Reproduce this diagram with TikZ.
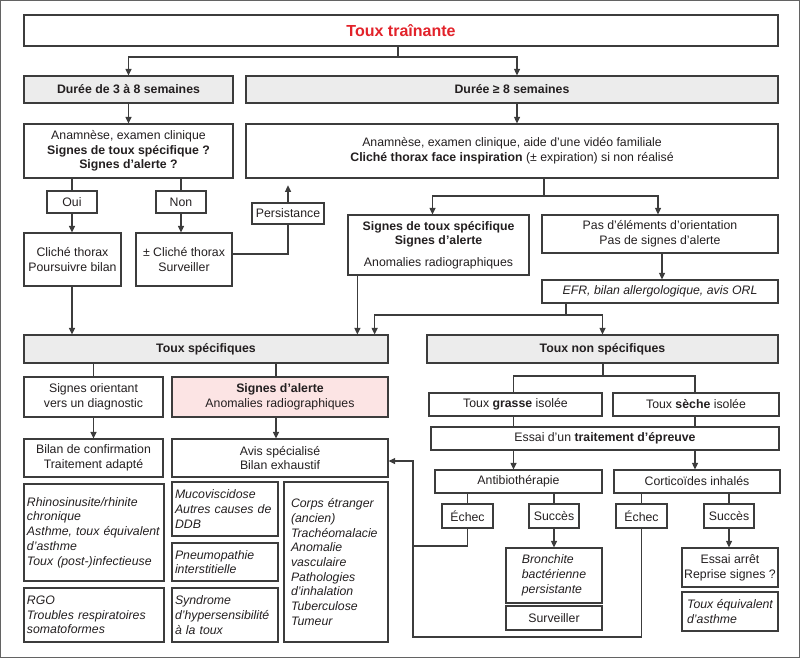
\documentclass[tikz,border=0pt]{standalone}
\usepackage{fontspec}
\setmainfont{Liberation Sans}
\usetikzlibrary{arrows.meta}
\definecolor{ln}{HTML}{3C3C3C}
\definecolor{tx}{HTML}{231F20}
\definecolor{gfill}{HTML}{ECECEC}
\definecolor{pfill}{HTML}{FCE4E4}
\definecolor{tred}{HTML}{E2222A}
\newcommand\bx[7][]{\node[box,#1,minimum width={#5-#3},minimum height={#6-#4}] (#2) at ({(#3+#5)/2},{(#4+#6)/2}) {#7};}
\begin{document}
\begin{tikzpicture}[x=1pt,y=-1pt,
  box/.style={draw=ln,line width=1.25pt,rectangle,inner sep=1pt,align=center,text=tx,
    font=\fontsize{12.3}{14.7}\selectfont},
  gbox/.style={fill=gfill,font=\fontsize{12.3}{14.7}\selectfont\bfseries},
  ibox/.style={align=left,font=\fontsize{12.3}{14.7}\selectfont\itshape},
  line/.style={draw=ln,line width=1.25pt},
  arr/.style={line,-{Triangle[length=6.5pt,width=6pt]}}]
\useasboundingbox (0,0) rectangle (800,659);
\draw[draw=ln!80,line width=1pt] (0.6,0.6) rectangle (799.2,657.4);
% boxes
\bx[font=\fontsize{16}{19}\selectfont\bfseries,text=tred]{title}{24}{15}{778}{46}{Toux traînante}
\bx[gbox]{d1}{24}{76}{233}{103}{Durée de 3 à 8 semaines}
\bx[gbox]{d2}{246}{76}{778}{103}{Durée ≥ 8 semaines}
\bx{a1}{24}{124}{233}{178}{Anamnèse, examen clinique\\\textbf{Signes de toux spécifique ?}\\\textbf{Signes d’alerte ?}}
\bx{a2}{246}{124}{778}{178}{Anamnèse, examen clinique, aide d’une vidéo familiale\\\textbf{Cliché thorax face inspiration} (± expiration) si non réalisé}
\bx{oui}{47}{191}{97}{213}{Oui}
\bx{non}{156}{191}{206}{213}{Non}
\bx{c1}{24}{233}{121}{286}{Cliché thorax\\Poursuivre bilan}
\bx{c2}{136}{233}{232}{286}{± Cliché thorax\\Surveiller}
\bx{pers}{252}{203}{324}{224}{Persistance}
\bx{s1}{348}{215}{529}{275}{\textbf{Signes de toux spécifique}\\\textbf{Signes d’alerte}\\[7pt]Anomalies radiographiques}
\bx{p1}{542}{215}{778}{253}{Pas d’éléments d’orientation\\Pas de signes d’alerte}
\bx[font=\fontsize{12.3}{14.7}\selectfont\itshape]{efr}{542}{280}{778}{303}{EFR, bilan allergologique, avis ORL}
\bx[gbox]{ts}{24}{335}{388}{363}{Toux spécifiques}
\bx[gbox]{tns}{427}{335}{778}{363}{Toux non spécifiques}
\bx{so}{24}{377}{163}{417}{Signes orientant\\vers un diagnostic}
\bx[fill=pfill]{sa}{172}{377}{388}{417}{\textbf{Signes d’alerte}\\Anomalies radiographiques}
\bx{bc}{24}{439}{163}{477}{Bilan de confirmation\\Traitement adapté}
\bx{av}{172}{439}{388}{477}{Avis spécialisé\\Bilan exhaustif}
\bx[ibox,text width=134pt]{rh}{24}{484}{164}{581}{Rhinosinusite/rhinite\\chronique\\Asthme, toux équivalent\\d’asthme\\Toux (post-)infectieuse}
\bx[ibox,text width=134pt]{rgo}{24}{588}{164}{642}{RGO\\Troubles respiratoires\\somatoformes}
\bx[ibox,text width=100pt]{mu}{172}{482}{278}{536}{Mucoviscidose\\Autres causes de\\DDB}
\bx[ibox,text width=100pt]{pn}{172}{543}{278}{581}{Pneumopathie\\interstitielle}
\bx[ibox,text width=100pt]{sy}{172}{588}{278}{642}{Syndrome\\d’hypersensibilité\\à la toux}
\bx[ibox,text width=90pt]{co}{284}{482}{388}{642}{Corps étranger\\(ancien)\\Trachéomalacie\\Anomalie\\vasculaire\\Pathologies\\d’inhalation\\Tuberculose\\Tumeur}
\bx{tg}{429}{393}{602}{416}{Toux \textbf{grasse} isolée}
\bx{tse}{613}{393}{779}{416}{Toux \textbf{sèche} isolée}
\bx{es}{431}{427}{779}{450}{Essai d’un \textbf{traitement d’épreuve}}
\bx{ab}{435}{470}{602}{493}{Antibiothérapie}
\bx{ci}{614}{470}{780}{493}{Corticoïdes inhalés}
\bx{e1}{442}{504}{493}{528}{Échec}
\bx{su1}{529}{504}{579}{528}{Succès}
\bx{e2}{616}{504}{667}{528}{Échec}
\bx{su2}{704}{504}{754}{528}{Succès}
\bx[ibox]{br}{506}{548}{602}{603}{Bronchite\\bactérienne\\persistante}
\bx{sv}{506}{606}{602}{630}{Surveiller}
\bx{ea}{682}{548}{778}{587}{Essai arrêt\\Reprise signes ?}
\bx[ibox]{te}{682}{592}{778}{631}{Toux équivalent\\d’asthme}
% connectors
\coordinate (j1) at (398,57);
\draw[line] (title.south -| j1) -- (j1);
\draw[arr] (j1) -| (d1.north);
\draw[arr] (j1) -| ([xshift=5pt]d2.north);
\draw[arr] (d1.south) -- (a1.north);
\draw[arr] ([xshift=5pt]d2.south) -- ([xshift=5pt]d2.south |- a2.north);
\draw[line] (a1.south -| oui.north) -- (oui.north);
\draw[line] (a1.south -| non.north) -- (non.north);
\draw[arr] (oui.south) -- (oui.south |- c1.north);
\draw[arr] (non.south) -- (non.south |- c2.north);
\draw[line] ([yshift=5.5pt]c2.east) -| (pers.south);
\draw[arr] (pers.north) -- ++(0,-17);
\draw[arr] (oui.south |- c1.south) -- (oui.south |- ts.north);
\coordinate (j2) at (544,196);
\draw[line] (a2.south -| j2) -- (j2);
\draw[arr] (j2) -| ([xshift=-6pt]s1.north);
\draw[arr] (j2) -| ([xshift=-2pt]p1.north);
\draw[arr] ([xshift=10pt]s1.south west) -- ([xshift=10pt]s1.south west |- ts.north);
\draw[arr] ([xshift=2pt]p1.south) -- ([xshift=2pt]p1.south |- efr.north);
\coordinate (j3) at (566,315);
\draw[line] (efr.south -| j3) -- (j3);
\draw[arr] (j3) -| ([xshift=-14pt]ts.north east);
\draw[arr] (j3) -| (tns.north);
\draw[line] (so.north |- ts.south) -- (so.north);
\draw[line] ([xshift=-4pt]sa.north |- ts.south) -- ([xshift=-4pt]sa.north);
\draw[arr] (so.south) -- (bc.north);
\draw[arr] ([xshift=-4pt]sa.south) -- ([xshift=-4pt]av.north);
\coordinate (j4) at (603,376);
\draw[line] (tns.south -| j4) -- (j4);
\draw[line] (j4) -| ([xshift=-2pt]tg.north);
\draw[line] (j4) -| ([xshift=-1pt]tse.north);
\draw[line] ([xshift=-2pt]tg.south) -- ([xshift=-2pt]tg.south |- es.north);
\draw[line] ([xshift=-1pt]tse.south) -- ([xshift=-1pt]tse.south |- es.north);
\draw[arr] ([xshift=-2pt]tg.south |- es.south) -- ([xshift=-2pt]tg.south |- ab.north);
\draw[arr] ([xshift=-1pt]tse.south |- es.south) -- ([xshift=-1pt]tse.south |- ci.north);
\draw[line] (e1.north |- ab.south) -- (e1.north);
\draw[line] (su1.north |- ab.south) -- (su1.north);
\draw[line] (e2.north |- ci.south) -- (e2.north);
\draw[line] (su2.north |- ci.south) -- (su2.north);
\draw[arr] (su1.south) -- (su1.south |- br.north);
\draw[arr] (su2.south) -- (su2.south |- ea.north);
\coordinate (k1) at (413,546);
\coordinate (k2) at (413,637);
\draw[line] (e1.south) |- (k1);
\draw[arr] (e2.south) |- (k2) |- ([yshift=-3pt]av.east);
\end{tikzpicture}
\end{document}
